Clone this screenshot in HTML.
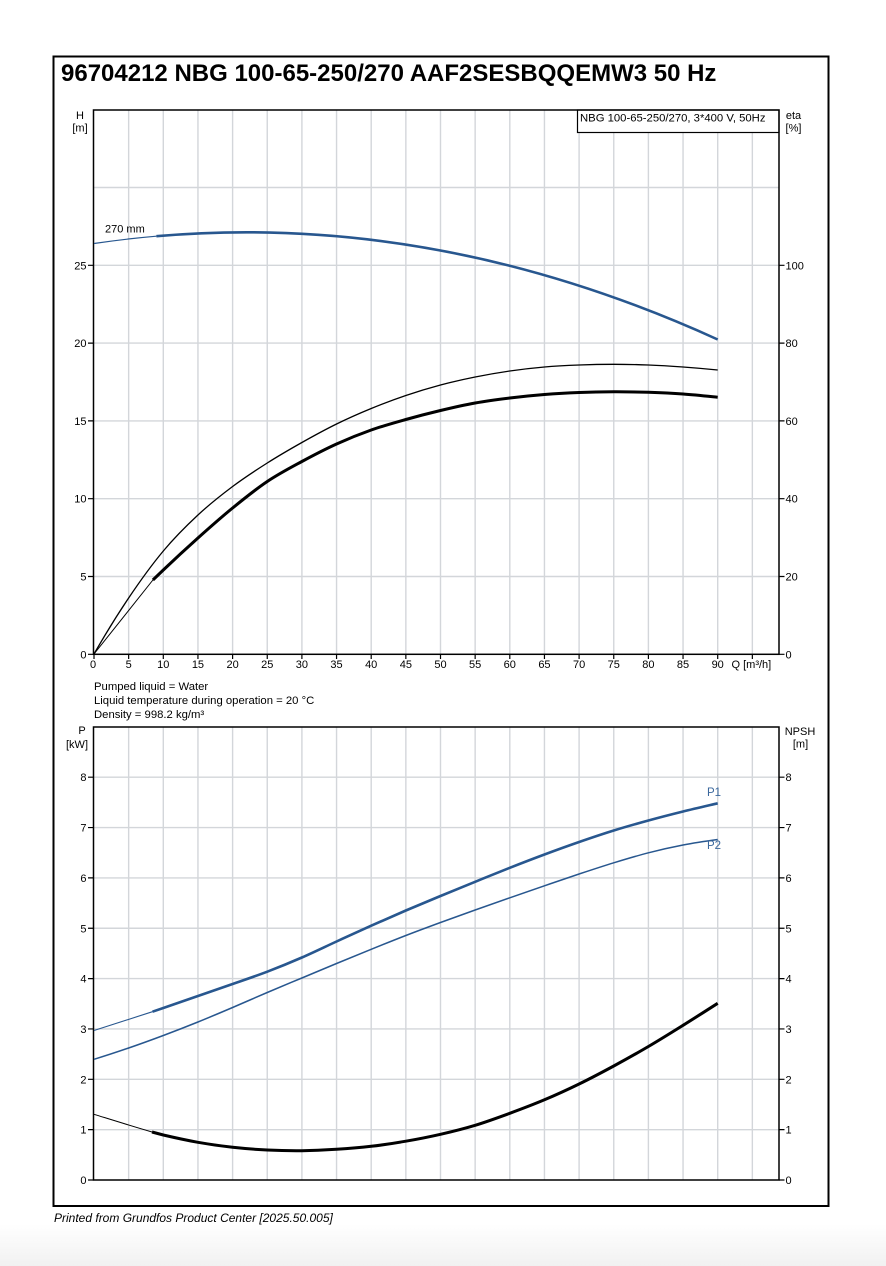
<!DOCTYPE html>
<html>
<head>
<meta charset="utf-8">
<style>
  html,body{margin:0;padding:0;background:#fff;}
  body{width:886px;height:1266px;overflow:hidden;}
  svg{display:block;}
  text{font-family:"Liberation Sans",Arial,sans-serif;fill:#000;}
</style>
</head>
<body>
<svg width="886" height="1266" viewBox="0 0 886 1266" xmlns="http://www.w3.org/2000/svg">
  <defs>
    <linearGradient id="bg" x1="0" y1="0" x2="0" y2="1">
      <stop offset="0" stop-color="#ffffff"/>
      <stop offset="1" stop-color="#f1f1f1"/>
    </linearGradient>
  </defs>
  <rect x="0" y="0" width="886" height="1266" fill="#fff"/>
  <rect x="0" y="1224" width="886" height="42" fill="url(#bg)"/>

  <!-- Outer frame -->
  <rect x="53.5" y="56.5" width="775" height="1149.5" fill="none" stroke="#000" stroke-width="2"/>

  <!-- Title -->
  <text x="61" y="81" font-size="24" font-weight="bold">96704212 NBG 100-65-250/270 AAF2SESBQQEMW3 50 Hz</text>

  <!-- ================= TOP CHART ================= -->
  <g stroke="#d3d6da" stroke-width="1.4" fill="none">
    <path d="M128.65 110V654.3M163.3 110V654.3M197.95 110V654.3M232.6 110V654.3M267.25 110V654.3M301.9 110V654.3M336.55 110V654.3M371.2 110V654.3M405.85 110V654.3M440.5 110V654.3M475.15 110V654.3M509.8 110V654.3M544.45 110V654.3M579.1 110V654.3M613.75 110V654.3M648.4 110V654.3M683.05 110V654.3M717.7 110V654.3M752.35 110V654.3"/>
    <path d="M93.5 576.5H779M93.5 498.7H779M93.5 420.9H779M93.5 343.1H779M93.5 265.3H779M93.5 187.5H779"/>
  </g>
  <rect x="577.5" y="110" width="201.5" height="22.5" fill="#fff" stroke="#000" stroke-width="1.2"/>
  <text x="580" y="121.5" font-size="11.3">NBG 100-65-250/270, 3*400 V, 50Hz</text>
  <rect x="93.5" y="110" width="685.5" height="544.3" fill="none" stroke="#000" stroke-width="1.5"/>
  <g stroke="#000" stroke-width="1.2">
    <path d="M88 654.3H93.5M88 576.5H93.5M88 498.7H93.5M88 420.9H93.5M88 343.1H93.5M88 265.3H93.5"/>
    <path d="M779 654.3H784.5M779 576.5H784.5M779 498.7H784.5M779 420.9H784.5M779 343.1H784.5M779 265.3H784.5"/>
    <path d="M94 654.3V659M128.65 654.3V659M163.3 654.3V659M197.95 654.3V659M232.6 654.3V659M267.25 654.3V659M301.9 654.3V659M336.55 654.3V659M371.2 654.3V659M405.85 654.3V659M440.5 654.3V659M475.15 654.3V659M509.8 654.3V659M544.45 654.3V659M579.1 654.3V659M613.75 654.3V659M648.4 654.3V659M683.05 654.3V659M717.7 654.3V659M752.35 654.3V659"/>
  </g>
  <g font-size="11" text-anchor="end">
    <text x="86.5" y="658.3">0</text>
    <text x="86.5" y="580.5">5</text>
    <text x="86.5" y="502.7">10</text>
    <text x="86.5" y="424.9">15</text>
    <text x="86.5" y="347.1">20</text>
    <text x="86.5" y="269.3">25</text>
  </g>
  <g font-size="11">
    <text x="785.5" y="658.3">0</text>
    <text x="785.5" y="580.5">20</text>
    <text x="785.5" y="502.7">40</text>
    <text x="785.5" y="424.9">60</text>
    <text x="785.5" y="347.1">80</text>
    <text x="785.5" y="269.3">100</text>
  </g>
  <g font-size="11" text-anchor="middle">
    <text x="93" y="668">0</text>
    <text x="128.65" y="668">5</text>
    <text x="163.3" y="668">10</text>
    <text x="197.95" y="668">15</text>
    <text x="232.6" y="668">20</text>
    <text x="267.25" y="668">25</text>
    <text x="301.9" y="668">30</text>
    <text x="336.55" y="668">35</text>
    <text x="371.2" y="668">40</text>
    <text x="405.85" y="668">45</text>
    <text x="440.5" y="668">50</text>
    <text x="475.15" y="668">55</text>
    <text x="509.8" y="668">60</text>
    <text x="544.45" y="668">65</text>
    <text x="579.1" y="668">70</text>
    <text x="613.75" y="668">75</text>
    <text x="648.4" y="668">80</text>
    <text x="683.05" y="668">85</text>
    <text x="717.7" y="668">90</text>
  </g>
  <rect x="729" y="659.5" width="46" height="12" fill="#fff"/>
  <text x="731.5" y="668" font-size="11">Q [m³/h]</text>
  <g font-size="11" text-anchor="middle">
    <text x="80" y="119">H</text>
    <text x="80" y="131.5">[m]</text>
    <text x="793.5" y="119">eta</text>
    <text x="793.5" y="131.5">[%]</text>
  </g>
  <text x="105" y="232.3" font-size="11">270 mm</text>

  <!-- H curve -->
  <path d="M94 243.5 Q125.2 238.9 156.4 236.2" fill="none" stroke="#28578f" stroke-width="1.2"/>
  <path d="M156.4 236.2 Q437.05 211.8 717.7 339.5" fill="none" stroke="#28578f" stroke-width="2.6"/>

  <!-- efficiency upper (thin) -->
  <path fill="none" stroke="#000" stroke-width="1.3"
    d="M94 654 C105.55,633.8 117.1,615.17 128.65,598 C140.2,580.83 151.75,564.83 163.3,551 C174.85,537.17 186.4,525.75 197.95,515 C209.5,504.25 221.05,495.17 232.6,486.5 C244.15,477.83 255.7,470.33 267.25,463 C278.8,455.67 290.35,449 301.9,442.5 C313.45,436 325,429.67 336.55,424 C348.1,418.33 359.65,413.25 371.2,408.5 C382.75,403.75 394.3,399.42 405.85,395.5 C417.4,391.58 428.95,388.08 440.5,385 C452.05,381.92 463.6,379.33 475.15,377 C486.7,374.67 498.25,372.67 509.8,371 C521.35,369.33 532.9,368 544.45,367 C556,366 567.55,365.45 579.1,365 C590.65,364.55 602.2,364.3 613.75,364.3 C625.3,364.3 636.85,364.55 648.4,365 C659.95,365.45 671.5,366.17 683.05,367 C694.6,367.83 706.15,368.83 717.7,370"/>
  <!-- efficiency lower thin start -->
  <path fill="none" stroke="#000" stroke-width="1" d="M94 654 C111 633 130 609 152.9 580"/>
  <!-- efficiency lower thick -->
  <path fill="none" stroke="#000" stroke-width="3" stroke-linejoin="round"
    d="M152.9 580 L163.3 570 C174.85,559 186.4,548.33 197.95,538 C209.5,527.67 221.05,517.42 232.6,508 C244.15,498.58 255.7,489.25 267.25,481.5 C278.8,473.75 290.35,467.75 301.9,461.5 C313.45,455.25 325,449.25 336.55,444 C348.1,438.75 359.65,434.08 371.2,430 C382.75,425.92 394.3,422.75 405.85,419.5 C417.4,416.25 428.95,413.25 440.5,410.5 C452.05,407.75 463.6,405.08 475.15,403 C486.7,400.92 498.25,399.42 509.8,398 C521.35,396.58 532.9,395.42 544.45,394.5 C556,393.58 567.55,392.95 579.1,392.5 C590.65,392.05 602.2,391.83 613.75,391.8 C625.3,391.77 636.85,391.93 648.4,392.3 C659.95,392.67 671.5,393.17 683.05,394 C694.6,394.83 706.15,396.1 717.7,397.3"/>

  <g font-size="11.3">
    <text x="94" y="690">Pumped liquid = Water</text>
    <text x="94" y="704">Liquid temperature during operation = 20 °C</text>
    <text x="94" y="718">Density = 998.2 kg/m³</text>
  </g>

  <!-- ================= BOTTOM CHART ================= -->
  <g stroke="#d3d6da" stroke-width="1.4" fill="none">
    <path d="M128.65 727V1180M163.3 727V1180M197.95 727V1180M232.6 727V1180M267.25 727V1180M301.9 727V1180M336.55 727V1180M371.2 727V1180M405.85 727V1180M440.5 727V1180M475.15 727V1180M509.8 727V1180M544.45 727V1180M579.1 727V1180M613.75 727V1180M648.4 727V1180M683.05 727V1180M717.7 727V1180M752.35 727V1180"/>
    <path d="M93.5 1129.65H779M93.5 1079.3H779M93.5 1028.95H779M93.5 978.6H779M93.5 928.25H779M93.5 877.9H779M93.5 827.55H779M93.5 777.2H779"/>
  </g>
  <rect x="93.5" y="727" width="685.5" height="453" fill="none" stroke="#000" stroke-width="1.5"/>
  <g stroke="#000" stroke-width="1.2">
    <path d="M88 1180H93.5M88 1129.65H93.5M88 1079.3H93.5M88 1028.95H93.5M88 978.6H93.5M88 928.25H93.5M88 877.9H93.5M88 827.55H93.5M88 777.2H93.5"/>
    <path d="M779 1180H784.5M779 1129.65H784.5M779 1079.3H784.5M779 1028.95H784.5M779 978.6H784.5M779 928.25H784.5M779 877.9H784.5M779 827.55H784.5M779 777.2H784.5"/>
  </g>
  <g font-size="11" text-anchor="end">
    <text x="86.5" y="1184">0</text>
    <text x="86.5" y="1133.65">1</text>
    <text x="86.5" y="1083.3">2</text>
    <text x="86.5" y="1032.95">3</text>
    <text x="86.5" y="982.6">4</text>
    <text x="86.5" y="932.25">5</text>
    <text x="86.5" y="881.9">6</text>
    <text x="86.5" y="831.55">7</text>
    <text x="86.5" y="781.2">8</text>
  </g>
  <g font-size="11">
    <text x="785.5" y="1184">0</text>
    <text x="785.5" y="1133.65">1</text>
    <text x="785.5" y="1083.3">2</text>
    <text x="785.5" y="1032.95">3</text>
    <text x="785.5" y="982.6">4</text>
    <text x="785.5" y="932.25">5</text>
    <text x="785.5" y="881.9">6</text>
    <text x="785.5" y="831.55">7</text>
    <text x="785.5" y="781.2">8</text>
  </g>
  <g font-size="11" text-anchor="middle">
    <text x="82" y="734">P</text>
    <text x="77" y="748">[kW]</text>
    <text x="800" y="735">NPSH</text>
    <text x="800.5" y="747.5">[m]</text>
  </g>

  <!-- P1 -->
  <path fill="none" stroke="#28578f" stroke-width="1.1" d="M94 1030.5 L152.5 1011.7"/>
  <path fill="none" stroke="#28578f" stroke-width="2.6" stroke-linejoin="round"
    d="M152.5 1011.7 L163.3 1008 C174.85,1004 186.4,1000 197.95,996 C209.5,992 221.05,988.05 232.6,984 C244.15,979.95 255.7,976.12 267.25,971.7 C278.8,967.28 290.35,962.53 301.9,957.5 C313.45,952.47 325,946.8 336.55,941.5 C348.1,936.2 359.65,930.87 371.2,925.7 C382.75,920.53 394.3,915.45 405.85,910.5 C417.4,905.55 428.95,900.78 440.5,896 C452.05,891.22 463.6,886.5 475.15,881.8 C486.7,877.1 498.25,872.35 509.8,867.8 C521.35,863.25 532.9,858.8 544.45,854.5 C556,850.2 567.55,846 579.1,842 C590.65,838 602.2,834.08 613.75,830.5 C625.3,826.92 636.85,823.67 648.4,820.5 C659.95,817.33 671.5,814.37 683.05,811.5 C694.6,808.63 706.15,806 717.7,803.3"/>
  <!-- P2 -->
  <path fill="none" stroke="#28578f" stroke-width="1.5"
    d="M94 1059.3 C105.55,1055.8 117.1,1051.97 128.65,1048 C140.2,1044.03 151.75,1039.83 163.3,1035.5 C174.85,1031.17 186.4,1026.67 197.95,1022 C209.5,1017.33 221.05,1012.42 232.6,1007.5 C244.15,1002.58 255.7,997.42 267.25,992.5 C278.8,987.58 290.35,982.83 301.9,978 C313.45,973.17 325,968.28 336.55,963.5 C348.1,958.72 359.65,953.97 371.2,949.3 C382.75,944.63 394.3,939.97 405.85,935.5 C417.4,931.03 428.95,926.75 440.5,922.5 C452.05,918.25 463.6,914.12 475.15,910 C486.7,905.88 498.25,901.83 509.8,897.8 C521.35,893.77 532.9,889.77 544.45,885.8 C556,881.83 567.55,877.83 579.1,874 C590.65,870.17 602.2,866.33 613.75,862.8 C625.3,859.27 636.85,855.77 648.4,852.8 C659.95,849.83 671.5,847.22 683.05,845 C694.6,842.78 706.15,841.1 717.7,839.5"/>
  <text x="707" y="796" font-size="11.5" style="fill:#3a679c">P1</text>
  <text x="707" y="849" font-size="11.5" style="fill:#3a679c">P2</text>

  <!-- NPSH -->
  <path fill="none" stroke="#000" stroke-width="1" d="M94 1114.3 C114 1120.5 133 1126.5 152 1132"/>
  <path fill="none" stroke="#000" stroke-width="3" stroke-linejoin="round"
    d="M152 1132 L163.3 1135 C174.85,1137.7 186.4,1140.25 197.95,1142.3 C209.5,1144.35 221.05,1146.02 232.6,1147.3 C244.15,1148.58 255.7,1149.43 267.25,1150 C278.8,1150.57 290.35,1150.82 301.9,1150.7 C313.45,1150.58 325,1150.03 336.55,1149.3 C348.1,1148.57 359.65,1147.65 371.2,1146.3 C382.75,1144.95 394.3,1143.2 405.85,1141.2 C417.4,1139.2 428.95,1136.95 440.5,1134.3 C452.05,1131.65 463.6,1128.8 475.15,1125.3 C486.7,1121.8 498.25,1117.55 509.8,1113.3 C521.35,1109.05 532.9,1104.68 544.45,1099.8 C556,1094.92 567.55,1089.63 579.1,1084 C590.65,1078.37 602.2,1072.25 613.75,1066 C625.3,1059.75 636.85,1053.28 648.4,1046.5 C659.95,1039.72 671.5,1032.5 683.05,1025.3 C694.6,1018.1 706.15,1010.7 717.7,1003.3"/>

  <text x="54" y="1222" font-size="12" font-style="italic">Printed from Grundfos Product Center [2025.50.005]</text>
</svg>
</body>
</html>
